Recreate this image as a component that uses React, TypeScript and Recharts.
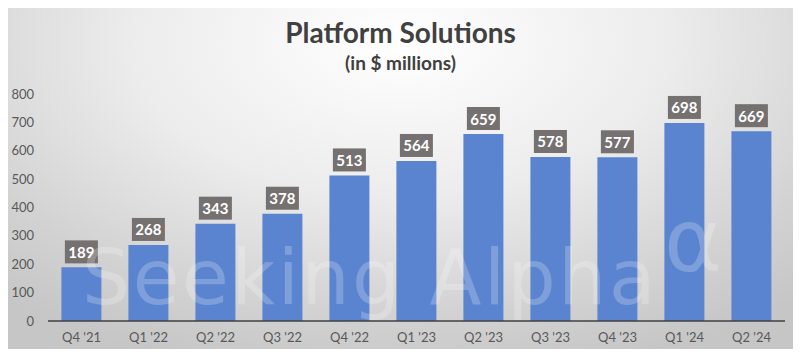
import { BarChart, Bar, XAxis, YAxis, LabelList } from 'recharts'

const quarters = ["Q4 '21", "Q1 '22", "Q2 '22", "Q3 '22", "Q4 '22", "Q1 '23", "Q2 '23", "Q3 '23", "Q4 '23", "Q1 '24", "Q2 '24"]
const revenue = [189, 268, 343, 378, 513, 564, 659, 578, 577, 698, 669]
const yTicks = [0, 100, 200, 300, 400, 500, 600, 700, 800]

const data = quarters.map((q, i) => ({ quarter: q, value: revenue[i] }))

const font = 'Lato, "Liberation Sans", sans-serif'

function ValueTag(props: any) {
  const { x, y, width, value } = props
  const cx = x + width / 2
  const w = 33
  const h = 23
  return (
    <g>
      <rect x={cx - w / 2} y={y - 4 - h} width={w} height={h} fill="#757170" />
      <text
        x={cx}
        y={y - 4 - h / 2}
        textAnchor="middle"
        dominantBaseline="central"
        fill="#ffffff"
        fontFamily={font}
        fontWeight={700}
        fontSize={15}
      >
        {value}
      </text>
    </g>
  )
}

export default function App() {
  return (
    <div
      style={{
        position: 'relative',
        margin: -8,
        width: 801,
        height: 357,
        overflow: 'hidden',
        background: 'radial-gradient(ellipse 75% 95% at 50% 12%, #ffffff 0%, #ececec 45%, #d2d2d2 80%, #c6c6c6 100%)',
        fontFamily: font,
      }}
    >
      <div style={{ position: 'absolute', top: 15, width: '100%', textAlign: 'center', fontSize: 28, fontWeight: 700, color: '#404040' }}>
        Platform Solutions
      </div>
      <div style={{ position: 'absolute', top: 51, width: '100%', textAlign: 'center', fontSize: 19, fontWeight: 700, color: '#404040' }}>
        (in $ millions)
      </div>
      <BarChart width={801} height={357} data={data} margin={{ top: 94, right: 16, left: 0, bottom: 6 }} barCategoryGap="20%">
        <XAxis
          dataKey="quarter"
          height={30}
          tickLine={false}
          stroke="#404040"
          strokeWidth={1.5}
          tickMargin={6}
          tick={{ fill: '#595959', fontSize: 13, fontFamily: font }}
        />
        <YAxis
          width={48}
          domain={[0, 800]}
          ticks={yTicks}
          axisLine={false}
          tickLine={false}
          tickMargin={8}
          tick={{ fill: '#595959', fontSize: 13, fontFamily: font }}
        />
        <Bar dataKey="value" fill="#5A84CF" isAnimationActive={false}>
          <LabelList dataKey="value" content={ValueTag} />
        </Bar>
      </BarChart>
      <div
        style={{
          position: 'absolute',
          left: 82,
          top: 238,
          lineHeight: '80px',
          fontFamily: '"DejaVu Sans", sans-serif',
          fontSize: 76,
          letterSpacing: 2.5,
          color: 'rgba(255,255,255,0.22)',
          whiteSpace: 'nowrap',
          pointerEvents: 'none',
        }}
      >
        Seeking Alpha
      </div>
      <div
        style={{
          position: 'absolute',
          left: 664,
          top: 196,
          lineHeight: '90px',
          fontFamily: '"DejaVu Sans", sans-serif',
          fontSize: 88,
          color: 'rgba(255,255,255,0.22)',
          pointerEvents: 'none',
        }}
      >
        α
      </div>
    </div>
  )
}
